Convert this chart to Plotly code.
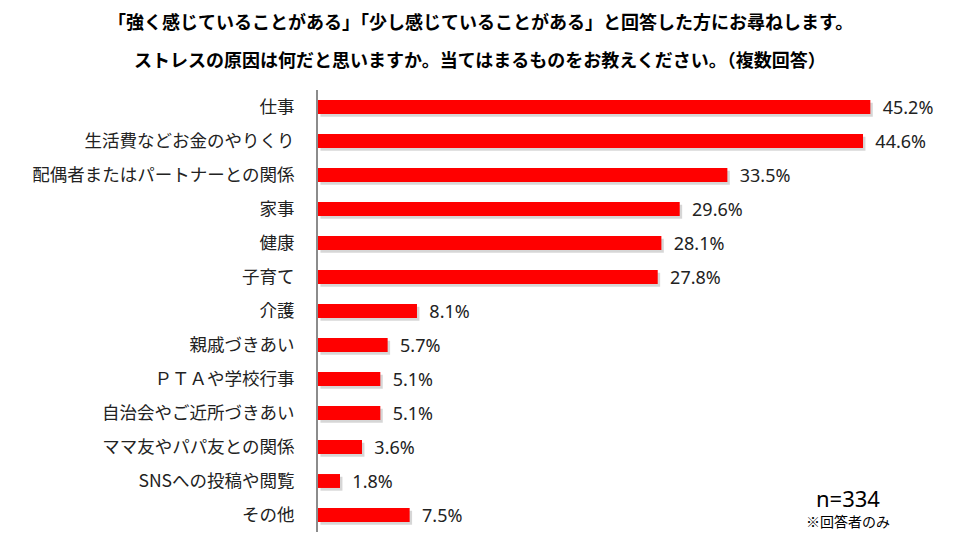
import plotly.graph_objects as go

categories = ["仕事", "生活費などお金のやりくり", "配偶者またはパートナーとの関係", "家事", "健康", "子育て",
              "介護", "親戚づきあい", "ＰＴＡや学校行事", "自治会やご近所づきあい", "ママ友やパパ友との関係",
              "SNSへの投稿や閲覧", "その他"]
values = [45.2, 44.6, 33.5, 29.6, 28.1, 27.8, 8.1, 5.7, 5.1, 5.1, 3.6, 1.8, 7.5]

FONT = "Noto Sans CJK JP"
NUMFONT = "Noto Sans"
L, R, T, B = 318, 26, 90, 18
W, H = 955, 550
pw, ph = W - L - R, H - T - B


def px_x(x):
    return (x - L) / pw


def px_y(y):
    return (H - B - y) / ph


fig = go.Figure()
# soft shadow behind bars
fig.add_trace(go.Bar(
    y=categories, x=values, orientation="h", base=0.2,
    marker=dict(color="rgba(0,0,0,0.16)", line=dict(width=0)),
    width=0.41, offset=-0.205 + 0.08, hoverinfo="skip", showlegend=False,
))
fig.add_trace(go.Bar(
    y=categories, x=values, orientation="h",
    marker=dict(color="#FF0000", line=dict(width=0)),
    width=0.41, offset=-0.205,
    text=[f"\u00a0\u00a0{v:.1f}%" for v in values], textposition="outside", constraintext="none",
    textfont=dict(size=18, color="#222222", family=NUMFONT), cliponaxis=False,
    showlegend=False,
))

fig.update_layout(
    width=W, height=H, barmode="overlay",
    margin=dict(l=L, r=R, t=T, b=B),
    paper_bgcolor="white", plot_bgcolor="white",
    font=dict(family=FONT, color="#222222"),
    xaxis=dict(range=[0, 50], showgrid=False, zeroline=False, showticklabels=False, ticks=""),
    yaxis=dict(autorange="reversed", showgrid=False, showline=True, linecolor="#8c8c8c", linewidth=2,
               ticks="", ticklabelstandoff=18, tickfont=dict(size=17.5, color="#222222", family=FONT)),
)
fig.add_annotation(text="<b>「強く感じていることがある」「少し感じていることがある」と回答した方にお尋ねします。</b>",
                   x=px_x(480), xref="paper", y=px_y(21), yref="paper", xanchor="center", yanchor="middle",
                   showarrow=False, font=dict(size=18, color="black"))
fig.add_annotation(text="<b>ストレスの原因は何だと思いますか。当てはまるものをお教えください。（複数回答）</b>",
                   x=px_x(480), xref="paper", y=px_y(59), yref="paper", xanchor="center", yanchor="middle",
                   showarrow=False, font=dict(size=18, color="black"))
fig.add_annotation(text="n=334", x=px_x(848), xref="paper", y=px_y(498), yref="paper",
                   xanchor="center", yanchor="middle", showarrow=False,
                   font=dict(size=22, color="black", family=NUMFONT))
fig.add_annotation(text="※回答者のみ", x=px_x(848), xref="paper", y=px_y(521), yref="paper",
                   xanchor="center", yanchor="middle", showarrow=False,
                   font=dict(size=14, color="black"))

fig.write_html("out.html")
